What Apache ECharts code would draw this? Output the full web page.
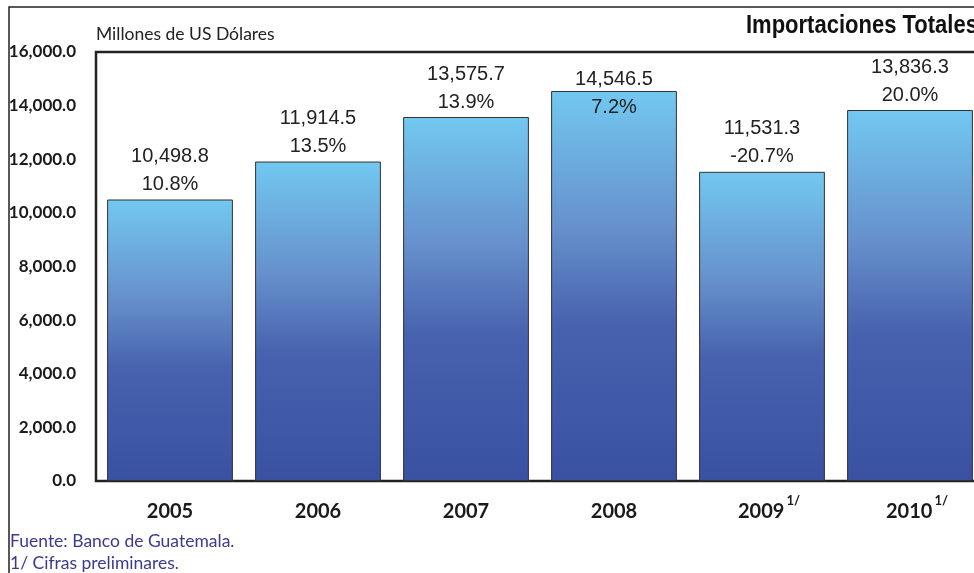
<!DOCTYPE html>
<html>
<head>
<meta charset="utf-8">
<script src="https://cdn.jsdelivr.net/npm/echarts@6/dist/echarts.min.js"></script>
<style>
  html, body { margin: 0; padding: 0; background: #fff; }
  #chart { width: 974px; height: 573px; }
</style>
</head>
<body>
<div id="chart"></div>
<script>
var years = ['2005', '2006', '2007', '2008', '2009', '2010'];
var imports = [10498.8, 11914.5, 13575.7, 14546.5, 11531.3, 13836.3];
var growth = [10.8, 13.5, 13.9, 7.2, -20.7, 20.0];
var preliminary = [false, false, false, false, true, true];

var chart = echarts.init(document.getElementById('chart'));

function fmt(v, d) {
  return v.toLocaleString('en-US', { minimumFractionDigits: d, maximumFractionDigits: d });
}

var barGradient = new echarts.graphic.LinearGradient(0, 0, 0, 1, [
  { offset: 0, color: '#72c8f0' },
  { offset: 0.35, color: '#6690cc' },
  { offset: 0.6, color: '#4762ae' },
  { offset: 1, color: '#3a51a2' }
]);

var barData = imports.map(function (v, i) {
  var item = { value: v };
  // 2008 label sits lower, partly inside the bar
  if (i === 3) item.label = { offset: [0, 32] };
  return item;
});

var option = {
  animation: false,
  grid: {
    left: 96, top: 52, width: 888, bottom: 92,
    outerBoundsMode: 'none',
    containLabel: false,
    show: true,
    borderColor: '#222',
    borderWidth: 2.5,
    backgroundColor: 'transparent'
  },
  graphic: [
    {
      type: 'polyline',
      shape: { points: [[9, 580], [9, 7], [990, 7]] },
      style: { stroke: '#222', lineWidth: 1.5, fill: null }
    },
    {
      type: 'text', x: 746, y: 14, scaleX: 0.88,
      style: {
        text: 'Importaciones Totales',
        font: 'bold 25px "Liberation Sans", Arial, sans-serif',
        fill: '#111'
      }
    },
    {
      type: 'text', left: 96, top: 25,
      style: { text: 'Millones de US Dólares', font: '17.5px Lato', fill: '#222' }
    },
    {
      type: 'text', left: 10, top: 532,
      style: { text: 'Fuente: Banco de Guatemala.', font: '17.5px Lato', fill: '#3b3a8e' }
    },
    {
      type: 'text', left: 10, top: 554,
      style: { text: '1/ Cifras preliminares.', font: '17.5px Lato', fill: '#3b3a8e' }
    }
  ],
  xAxis: {
    type: 'category',
    data: years,
    axisLine: { show: false },
    axisTick: { show: false },
    axisLabel: {
      margin: 13,
      formatter: function (v, i) {
        return preliminary[i] ? '{yp|' + v + '}{s|1/}' : '{y|' + v + '}';
      },
      rich: {
        y: { fontFamily: 'Lato', fontWeight: 'bold', fontSize: 20, color: '#1a1a1a', lineHeight: 36 },
        yp: { fontFamily: 'Lato', fontWeight: 'bold', fontSize: 20, color: '#1a1a1a', lineHeight: 36,
              padding: [0, 0, 0, 14] },
        s: { fontFamily: 'Lato', fontWeight: 'bold', fontSize: 13, color: '#1a1a1a',
             verticalAlign: 'top', padding: [0, 0, 0, 2] }
      }
    }
  },
  yAxis: {
    type: 'value',
    min: 0,
    max: 16000,
    interval: 2000,
    splitLine: { show: false },
    axisLine: { show: false },
    axisTick: { show: false },
    axisLabel: {
      margin: 20,
      fontFamily: 'Lato',
      fontWeight: 'bold',
      fontSize: 17,
      color: '#1a1a1a',
      formatter: function (v) { return fmt(v, 1); }
    }
  },
  series: [{
    type: 'bar',
    data: barData,
    barCategoryGap: '15%',
    itemStyle: {
      color: barGradient,
      borderColor: '#333',
      borderWidth: 1
    },
    label: {
      show: true,
      position: 'top',
      distance: 1,
      formatter: function (p) {
        return '{v|' + fmt(p.value, 1) + '}\n{p|' + fmt(growth[p.dataIndex], 1) + '%}';
      },
      rich: {
        v: { fontFamily: 'Liberation Sans', fontSize: 20, color: '#222', lineHeight: 28 },
        p: { fontFamily: 'Liberation Sans', fontSize: 20, color: '#222', lineHeight: 28 }
      }
    }
  }]
};

chart.setOption(option);
</script>
</body>
</html>
